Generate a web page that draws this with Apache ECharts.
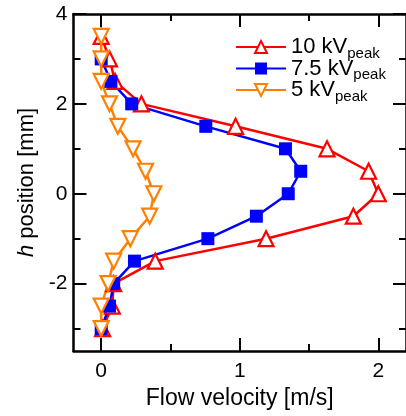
<!DOCTYPE html>
<html style="height: 100%">
    <head>
        <meta charset="utf-8">
    </head>
    <body style="height: 100%; margin: 0">
        <div id="container" style="width: 406px; height: 416px"></div>
        <script type="text/javascript" src="https://cdn.jsdelivr.net/npm/echarts@6/dist/echarts.min.js"></script>
        <script type="text/javascript">

// h position [mm] of each measurement
var hLong = [3.5, 3, 2.5, 2, 1.5, 1, 0.5, 0, -0.5, -1, -1.5, -2, -2.5, -3];
var hShort = [3, 2.5, 2, 1.5, 1, 0.5, 0, -0.5, -1, -1.5, -2, -2.5, -3];

// flow velocity [m/s]
var v10 = [0.0, 0.06, 0.10, 0.29, 0.97, 1.63, 1.93, 2.0, 1.82, 1.19, 0.39, 0.09, 0.08, 0.01];
var v75 = [0.0, 0.07, 0.22, 0.755, 1.33, 1.44, 1.35, 1.12, 0.77, 0.24, 0.09, 0.06, 0.0];
var v5  = [0.0, 0.0, 0.0, 0.06, 0.12, 0.23, 0.32, 0.38, 0.35, 0.21, 0.09, 0.05, 0.0, 0.0];

var xMajor = [0, 1, 2];
var xMinor = [0.5, 1.5];
var yMajor = [-2, 0, 2, 4];
var yMinor = [-3, -1, 1, 3];

var names = ['10 kV', '7.5 kV', '5 kV'];

var dom = document.getElementById("container");
var myChart = echarts.init(dom);

var font = 'Liberation Sans, Arial, sans-serif';
var pair = (xs, hs) => xs.map((v, i) => [v, hs[i]]);

var tickAxis = function (dim, pos, ticks, len, line) {
    return {
        type: 'value',
        position: pos,
        min: dim === 'x' ? -0.2 : -3.5,
        max: dim === 'x' ? 2.2 : 4,
        axisLine: { show: line, onZero: false, lineStyle: { color: '#000', width: 2.5 } },
        axisTick: { show: true, inside: true, length: len, customValues: ticks, lineStyle: { color: '#000', width: 2 } },
        axisLabel: { show: false },
        splitLine: { show: false }
    };
};

var xAxes = [
    tickAxis('x', 'bottom', xMajor, 13, true),
    tickAxis('x', 'bottom', xMinor, 7, false),
    tickAxis('x', 'top', xMajor, 13, true),
    tickAxis('x', 'top', xMinor, 7, false)
];
xAxes[0].axisLabel = { show: true, customValues: xMajor, margin: 10, color: '#000', fontSize: 21, fontFamily: font };
xAxes[0].name = 'Flow velocity [m/s]';
xAxes[0].nameLocation = 'middle';
xAxes[0].nameGap = 36;
xAxes[0].nameTextStyle = { color: '#000', fontSize: 23, fontFamily: font };

var yAxes = [
    tickAxis('y', 'left', yMajor, 13, true),
    tickAxis('y', 'left', yMinor, 7, false),
    tickAxis('y', 'right', yMajor, 13, true),
    tickAxis('y', 'right', yMinor, 7, false)
];
yAxes[0].axisLabel = { show: true, customValues: yMajor, margin: 6, color: '#000', fontSize: 21, fontFamily: font };
yAxes[0].name = '{i|h} position [mm]';
yAxes[0].nameLocation = 'middle';
yAxes[0].nameGap = 36;
yAxes[0].nameTextStyle = {
    color: '#000', fontSize: 22, fontFamily: font,
    rich: { i: { fontStyle: 'italic', fontSize: 22, fontFamily: font, color: '#000' } }
};

var mk = function (name, color, data, symbol, size, filled, rotate) {
    return {
        name: name,
        type: 'line',
        xAxisIndex: 0,
        yAxisIndex: 0,
        data: data,
        symbol: symbol,
        symbolSize: size,
        symbolRotate: rotate,
        lineStyle: { color: color, width: 2.5 },
        itemStyle: { color: filled ? color : '#fff', borderColor: color, borderWidth: filled ? 0 : 2.2 },
        emphasis: { disabled: true },
        animation: false
    };
};

option = {
    animation: false,
    grid: { left: 73.5, top: 14, width: 338, height: 337 },
    legend: {
        orient: 'vertical',
        left: 235,
        top: 36,
        padding: 0,
        itemWidth: 50,
        itemHeight: 15,
        itemGap: -3.5,
        data: names,
        formatter: function (n) { return '{a|' + n + '}{b|peak}'; },
        textStyle: {
            rich: {
                a: { fontSize: 22, fontFamily: font, color: '#000', lineHeight: 22 },
                b: { fontSize: 15, fontFamily: font, color: '#000', padding: [13, 0, 0, 0] }
            }
        }
    },
    xAxis: xAxes,
    yAxis: yAxes,
    series: [
        mk(names[0], '#ff0000', pair(v10, hLong), 'triangle', 15, false, 0),
        mk(names[1], '#0000ff', pair(v75, hShort), 'rect', 13, true, 0),
        mk(names[2], '#ff8000', pair(v5, hLong), 'triangle', 15, false, 180)
    ]
};

if (option && typeof option === 'object') {
    myChart.setOption(option);
}

        </script>
    </body>
</html>
